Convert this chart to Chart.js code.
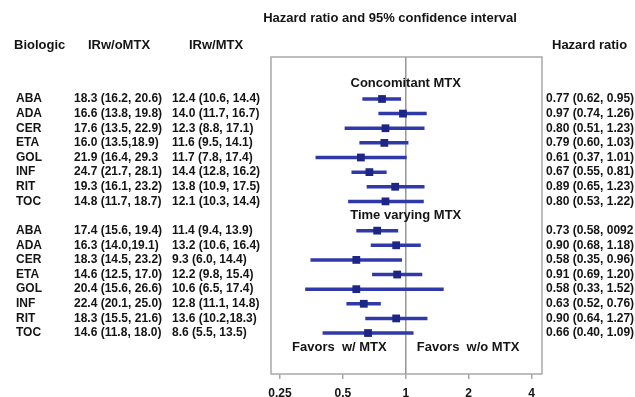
<!DOCTYPE html>
<html><head><meta charset="utf-8">
<script src="https://cdn.jsdelivr.net/npm/chart.js@4"></script>
<style>html,body{margin:0;padding:0;background:#fff;}canvas{display:block;}</style>
</head><body>
<canvas id="c" width="635" height="397"></canvas>
<script>
// ---- data ----
const biologics = ['ABA','ADA','CER','ETA','GOL','INF','RIT','TOC'];
const concHR = [0.77,0.97,0.80,0.79,0.61,0.67,0.89,0.80];
const concLo = [0.62,0.74,0.51,0.60,0.37,0.55,0.65,0.53];
const concHi = [0.95,1.26,1.23,1.03,1.01,0.81,1.23,1.22];
const timeHR = [0.73,0.90,0.58,0.91,0.58,0.63,0.90,0.66];
const timeLo = [0.58,0.68,0.35,0.69,0.33,0.52,0.64,0.40];
const timeHi = [0.92,1.18,0.96,1.20,1.52,0.76,1.27,1.09];
const concIRwo = ['18.3 (16.2, 20.6)','16.6 (13.8, 19.8)','17.6 (13.5, 22.9)','16.0 (13.5,18.9)','21.9 (16.4, 29.3','24.7 (21.7, 28.1)','19.3 (16.1, 23.2)','14.8 (11.7, 18.7)'];
const concIRw = ['12.4 (10.6, 14.4)','14.0 (11.7, 16.7)','12.3 (8.8, 17.1)','11.6 (9.5, 14.1)','11.7 (7.8, 17.4)','14.4 (12.8, 16.2)','13.8 (10.9, 17.5)','12.1 (10.3, 14.4)'];
const concHRText = ['0.77 (0.62, 0.95)','0.97 (0.74, 1.26)','0.80 (0.51, 1.23)','0.79 (0.60, 1.03)','0.61 (0.37, 1.01)','0.67 (0.55, 0.81)','0.89 (0.65, 1.23)','0.80 (0.53, 1.22)'];
const timeIRwo = ['17.4 (15.6, 19.4)','16.3 (14.0,19.1)','18.3 (14.5, 23.2)','14.6 (12.5, 17.0)','20.4 (15.6, 26.6)','22.4 (20.1, 25.0)','18.3 (15.5, 21.6)','14.6 (11.8, 18.0)'];
const timeIRw = ['11.4 (9.4, 13.9)','13.2 (10.6, 16.4)','9.3 (6.0, 14.4)','12.2 (9.8, 15.4)','10.6 (6.5, 17.4)','12.8 (11.1, 14.8)','13.6 (10.2,18.3)','8.6 (5.5, 13.5)'];
const timeHRText = ['0.73 (0.58, 0092','0.90 (0.68, 1.18)','0.58 (0.35, 0.96)','0.91 (0.69, 1.20)','0.58 (0.33, 1.52)','0.63 (0.52, 0.76)','0.90 (0.64, 1.27)','0.66 (0.40, 1.09)'];
const tickValues = [0.25,0.5,1,2,4];
const tickLabels = ['0.25','0.5','1','2','4'];
const titleText = 'Hazard ratio and 95% confidence interval';
const headers = ['Biologic','IRw/oMTX','IRw/MTX','Hazard ratio'];
const sectionLabels = ['Concomitant MTX','Time varying MTX'];
const favorLabels = ['Favors  w/ MTX','Favors  w/o MTX'];

// ---- layout (row positions on the hidden y scale) ----
const concRows = biologics.map((_, i) => i);
const timeRows = biologics.map((_, i) => 9 + i);
const Y_MIN = -2.87, Y_MAX = 18.8;

const LINE = '#3039aa', SQ = '#1d2585', TXT = '#141414';
const FONT = '"Liberation Sans", Arial, sans-serif';

const whiskers = [];
concRows.forEach((r, i) => whiskers.push({data:[{x:concLo[i],y:r},{x:concHi[i],y:r}]}));
timeRows.forEach((r, i) => whiskers.push({data:[{x:timeLo[i],y:r},{x:timeHi[i],y:r}]}));

const datasets = [
  { data: concRows.map((r,i)=>({x:concHR[i],y:r})).concat(timeRows.map((r,i)=>({x:timeHR[i],y:r}))),
    pointStyle:'rect', pointRadius:5.5, backgroundColor:SQ, borderColor:SQ, borderWidth:0, showLine:false },
  ...whiskers.map(w => ({ data:w.data, showLine:true, borderColor:LINE, borderWidth:3.5, pointRadius:0, borderCapStyle:'butt' })),
  { data:[{x:1,y:Y_MIN},{x:1,y:Y_MAX}], showLine:true, borderColor:'#9a9a9a', borderWidth:1, pointRadius:0 }
];

const boxPlugin = {
  id:'box',
  afterDatasetsDraw(chart){
    const a = chart.chartArea, ctx = chart.ctx;
    ctx.save();
    ctx.strokeStyle = '#a8a8a8'; ctx.lineWidth = 1.5;
    ctx.strokeRect(a.left, a.top, a.right - a.left, a.bottom - a.top);
    ctx.restore();
  }
};

const textPlugin = {
  id:'texts',
  afterDraw(chart){
    const ctx = chart.ctx, xs = chart.scales.x, ys = chart.scales.y;
    const x1 = xs.getPixelForValue(1);
    ctx.save();
    ctx.fillStyle = TXT;
    ctx.textBaseline = 'middle';
    ctx.font = 'bold 13px ' + FONT;
    ctx.textAlign = 'center';
    ctx.fillText(titleText, 390, 18);
    ctx.textAlign = 'left';
    ctx.fillText(headers[0], 14, 45);
    ctx.textAlign = 'center';
    ctx.fillText(headers[1], 119, 45);
    ctx.fillText(headers[2], 216, 45);
    ctx.textAlign = 'left';
    ctx.fillText(headers[3], 552, 45);
    // section labels
    ctx.textAlign = 'center';
    ctx.fillText(sectionLabels[0], x1, ys.getPixelForValue(-1.08));
    ctx.fillText(sectionLabels[1], x1, ys.getPixelForValue(7.93));
    ctx.textAlign = 'right';
    ctx.fillText(favorLabels[0], x1 - 19, ys.getPixelForValue(16.96));
    ctx.textAlign = 'left';
    ctx.fillText(favorLabels[1], x1 + 11, ys.getPixelForValue(16.96));
    // rows
    ctx.font = 'bold 12px ' + FONT;
    const rowText = (rows, a, b, c) => rows.forEach((r, i) => {
      const y = ys.getPixelForValue(r);
      ctx.textAlign = 'left';
      ctx.fillText(biologics[i], 16, y);
      ctx.fillText(a[i], 74, y);
      ctx.fillText(b[i], 172, y);
      ctx.fillText(c[i], 546, y);
    });
    rowText(concRows, concIRwo, concIRw, concHRText);
    rowText(timeRows, timeIRwo, timeIRw, timeHRText);
    ctx.restore();
  }
};

new Chart(document.getElementById('c'), {
  type:'scatter',
  data:{ datasets },
  options:{
    responsive:false, animation:false,
    layout:{ padding:{ left:271, right:93, top:57, bottom:0 } },
    plugins:{ legend:{display:false}, tooltip:{enabled:false} },
    scales:{
      x:{ type:'logarithmic', position:'bottom', min:0.2265, max:4.49,
          afterBuildTicks(s){ s.ticks = tickValues.map(v => ({value:v})); },
          afterFit(s){ s.height = 23; },
          grid:{ drawOnChartArea:false, drawTicks:true, tickLength:5, color:'#a8a8a8', lineWidth:1.5 },
          border:{ display:false },
          ticks:{ autoSkip:false, maxRotation:0, padding:7, color:TXT,
                  font:{ family:FONT, size:12, weight:'bold' },
                  callback(v){ const i = tickValues.indexOf(v); return i >= 0 ? tickLabels[i] : ''; } } },
      y:{ type:'linear', display:false, reverse:true, min:Y_MIN, max:Y_MAX }
    }
  },
  plugins:[boxPlugin, textPlugin]
});
</script>
</body></html>
